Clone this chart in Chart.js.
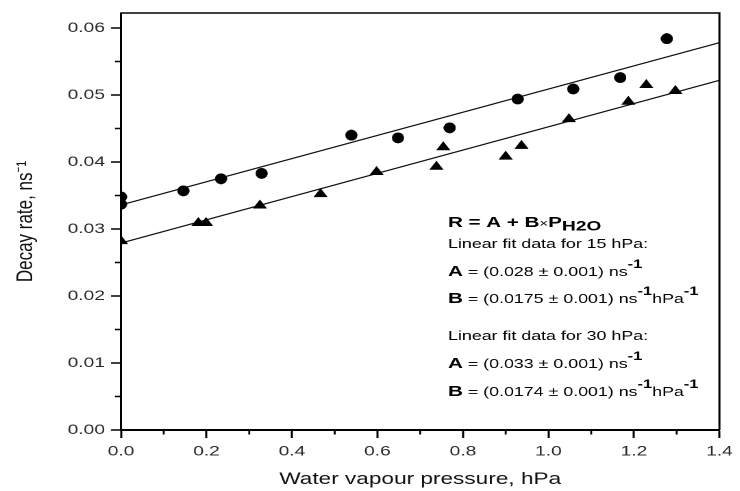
<!DOCTYPE html>
<html>
<head>
<meta charset="utf-8">
<script src="https://cdn.jsdelivr.net/npm/chart.js@4/dist/chart.umd.min.js"></script>
<style>
html,body{margin:0;padding:0;background:#fff;overflow:hidden;width:740px;height:491px}
#wrap{position:absolute;left:0;top:0;width:540.1px;height:491px;transform:scaleX(1.3701);transform-origin:0 0}
</style>
</head>
<body>
<div id="wrap"><canvas id="c"></canvas></div>
<script>
// ---- data ----
const xTicksMajor = [0, 0.2, 0.4, 0.6, 0.8, 1.0, 1.2, 1.4];
const xTicksMinor = [0.1, 0.3, 0.5, 0.7, 0.9, 1.1, 1.3];
const yTicksMajor = [0, 0.01, 0.02, 0.03, 0.04, 0.05, 0.06];
const yTicksMinor = [0.005, 0.015, 0.025, 0.035, 0.045, 0.055];

// 30 hPa (circles)
const p30X = [0, 0, 0.146, 0.234, 0.329, 0.539, 0.648, 0.769, 0.928, 1.058, 1.168, 1.277];
const p30Y = [0.0348, 0.0337, 0.0357, 0.0375, 0.0383, 0.0440, 0.0436, 0.0451, 0.0494, 0.0509, 0.0526, 0.0584];
// 15 hPa (triangles)
const p15X = [0, 0.181, 0.199, 0.325, 0.467, 0.598, 0.738, 0.754, 0.900, 0.937, 1.048, 1.187, 1.229, 1.297];
const p15Y = [0.0282, 0.0309, 0.0309, 0.0335, 0.0352, 0.0385, 0.0393, 0.0422, 0.0408, 0.0424, 0.0464, 0.0490, 0.0515, 0.0506];
// linear fits
const fitX = [0, 1.4];
const fit30Y = [0.0336, 0.0578];
const fit15Y = [0.0279, 0.0522];

const SANS = "'Liberation Sans', Arial, Helvetica, sans-serif";

function makeEllipse(w, h, k) {
  const c = document.createElement('canvas');
  c.width = w * k; c.height = h * k;
  const g = c.getContext('2d');
  g.fillStyle = '#000';
  g.beginPath();
  g.ellipse(w * k / 2, h * k / 2, w * k / 2 - 0.5, h * k / 2 - 0.5, 0, 0, Math.PI * 2);
  g.fill();
  const img = new Image(w, h);
  img.src = c.toDataURL();
  return img;
}
const dot = makeEllipse(9, 11, 6);

const pairs = (xs, ys) => xs.map((x, i) => ({x: x, y: ys[i]}));

const extras = {
  id: 'extras',
  afterDraw(chart) {
    const ctx = chart.ctx;
    const a = chart.chartArea;
    const xs = chart.scales.x, ys = chart.scales.y;
    ctx.save();
    ctx.strokeStyle = '#000';
    // frame (top & right)
    ctx.lineWidth = 1.5;
    ctx.beginPath();
    ctx.moveTo(a.left, a.top); ctx.lineTo(a.right, a.top); ctx.lineTo(a.right, a.bottom);
    ctx.stroke();
    // minor ticks
    ctx.lineWidth = 1.4;
    ctx.beginPath();
    yTicksMinor.forEach(v => {
      const p = ys.getPixelForValue(v);
      ctx.moveTo(a.left - 4.4, p); ctx.lineTo(a.left, p);
    });
    xTicksMinor.forEach(v => {
      const p = xs.getPixelForValue(v);
      ctx.moveTo(p, a.bottom); ctx.lineTo(p, a.bottom + 4.5);
    });
    ctx.stroke();

    // annotation text
    const bold = "bold 15px " + SANS;
    const sub = "bold 14px " + SANS;
    const sup = "bold 12px " + SANS;
    const ref = 'Linear fit data for 15 hPa:';
    ctx.font = "15px 'Liberation Sans Narrow'";
    const wN = ctx.measureText(ref).width;
    ctx.font = "15px 'Liberation Sans'";
    const wR = ctx.measureText(ref).width;
    const narrow = wN < wR * 0.9;
    const normal = narrow ? "15px 'Liberation Sans Narrow'" : "13px " + SANS;
    const small = narrow ? "13px " + SANS : "11px " + SANS;
    ctx.fillStyle = '#000';
    ctx.textBaseline = 'alphabetic';
    ctx.textAlign = 'left';
    const runs = (x, y, list) => {
      list.forEach(r => {
        ctx.font = r.f;
        ctx.fillText(r.t, x, y + (r.dy || 0));
        x += ctx.measureText(r.t).width;
      });
    };
    const X0 = 327;
    runs(X0, 227, [{t: 'R = A + B', f: bold}, {t: '×', f: small}, {t: 'P', f: bold}, {t: 'H2O', f: sub, dy: 3.5}]);
    runs(X0, 248, [{t: 'Linear fit data for 15 hPa:', f: normal}]);
    runs(X0, 276, [{t: 'A', f: bold}, {t: ' = (0.028 ± 0.001) ns', f: normal}, {t: '-1', f: sup, dy: -8}]);
    runs(X0, 303, [{t: 'B', f: bold}, {t: ' = (0.0175 ± 0.001) ns', f: normal}, {t: '-1', f: sup, dy: -8}, {t: 'hPa', f: normal}, {t: '-1', f: sup, dy: -8}]);
    runs(X0, 340, [{t: 'Linear fit data for 30 hPa:', f: normal}]);
    runs(X0, 368, [{t: 'A', f: bold}, {t: ' = (0.033 ± 0.001) ns', f: normal}, {t: '-1', f: sup, dy: -8}]);
    runs(X0, 396, [{t: 'B', f: bold}, {t: ' = (0.0174 ± 0.001) ns', f: normal}, {t: '-1', f: sup, dy: -8}, {t: 'hPa', f: normal}, {t: '-1', f: sup, dy: -8}]);
    ctx.restore();
  }
};

function draw() {
  new Chart(document.getElementById('c'), {
    type: 'scatter',
    data: {
      datasets: [
        {label: '30 hPa', data: pairs(p30X, p30Y), pointStyle: dot, pointRadius: 5, backgroundColor: '#000', borderColor: '#000', clip: 0},
        {label: '15 hPa', data: pairs(p15X, p15Y), pointStyle: 'triangle', pointRadius: 6, borderWidth: 0, backgroundColor: '#000', borderColor: '#000', clip: 0},
        {label: 'fit 30 hPa', data: pairs(fitX, fit30Y), showLine: true, pointRadius: 0, borderColor: '#111', borderWidth: 1.2, clip: 0},
        {label: 'fit 15 hPa', data: pairs(fitX, fit15Y), showLine: true, pointRadius: 0, borderColor: '#111', borderWidth: 1.2, clip: 0}
      ]
    },
    options: {
      responsive: true,
      maintainAspectRatio: false,
      animation: false,
      devicePixelRatio: 2,
      layout: {padding: {top: 13, right: 9.4, left: 0, bottom: 0}},
      plugins: {legend: {display: false}, tooltip: {enabled: false}},
      events: [],
      scales: {
        x: {
          type: 'linear', min: 0, max: 1.4,
          afterBuildTicks: s => { s.ticks = xTicksMajor.map(v => ({value: v})); },
          afterFit: s => { s.height = 61; },
          ticks: {callback: v => Number(v).toFixed(1), font: {family: SANS, size: 14}, color: '#2a2a2a', padding: 5.3, maxRotation: 0, autoSkip: false},
          grid: {drawOnChartArea: false, tickLength: 8, tickWidth: 1.5, tickColor: '#000'},
          border: {display: true, color: '#000', width: 2},
          title: {display: true, text: 'Water vapour pressure, hPa', font: {family: SANS, size: 16.5}, color: '#111', padding: {top: 0, bottom: 1.8}}
        },
        y: {
          type: 'linear', min: 0, max: 0.06224,
          afterBuildTicks: s => { s.ticks = yTicksMajor.map(v => ({value: v})); },
          afterFit: s => { s.width = 88.3; },
          ticks: {callback: v => Number(v).toFixed(2), font: {family: SANS, size: 14}, color: '#2a2a2a', padding: 4.4, autoSkip: false},
          grid: {drawOnChartArea: false, tickLength: 7.3, tickWidth: 1.5, tickColor: '#000'},
          border: {display: true, color: '#000', width: 1.5},
          title: {display: true, text: 'Decay rate, ns⁻¹', font: {family: SANS, size: 17}, color: '#111', padding: {top: 8.8, bottom: 0}}
        }
      }
    },
    plugins: [extras]
  });
}
if (dot.decode) { dot.decode().then(draw, draw); } else { dot.onload = draw; }
</script>
</body>
</html>
